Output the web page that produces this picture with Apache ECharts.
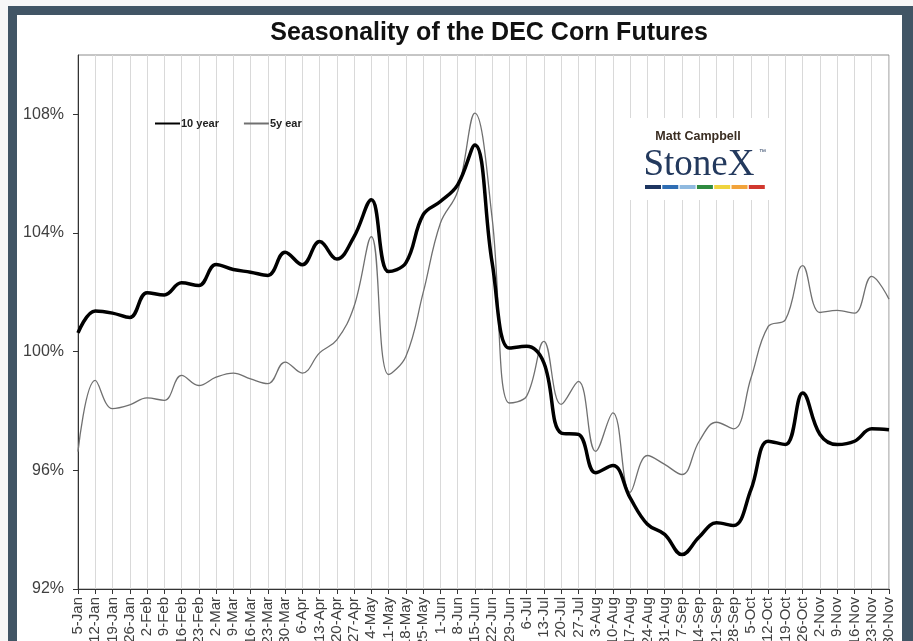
<!DOCTYPE html>
<html>
<head>
<meta charset="utf-8">
<script src="https://cdn.jsdelivr.net/npm/echarts@6/dist/echarts.min.js"></script>
<style>
	html, body { margin: 0; padding: 0; background: #f7f7f7; overflow: hidden; }
	#frame { position: absolute; left: 8px; top: 6px; width: 905px; height: 635px; background: #415565; }
	#chart { position: absolute; left: 17px; top: 15px; width: 885px; height: 626px; background: #ffffff; }
</style>
</head>
<body>
<div id="frame"></div>
<div id="chart"></div>
<script>
const weekLabels = ['5-Jan', '12-Jan', '19-Jan', '26-Jan', '2-Feb', '9-Feb', '16-Feb', '23-Feb',
	'2-Mar', '9-Mar', '16-Mar', '23-Mar', '30-Mar', '6-Apr', '13-Apr', '20-Apr', '27-Apr',
	'4-May', '11-May', '18-May', '25-May', '1-Jun', '8-Jun', '15-Jun', '22-Jun', '29-Jun',
	'6-Jul', '13-Jul', '20-Jul', '27-Jul', '3-Aug', '10-Aug', '17-Aug', '24-Aug', '31-Aug',
	'7-Sep', '14-Sep', '21-Sep', '28-Sep', '5-Oct', '12-Oct', '19-Oct', '26-Oct',
	'2-Nov', '9-Nov', '16-Nov', '23-Nov', '30-Nov'];

const tenYear = [100.63, 101.37, 101.30, 101.15, 101.99, 101.91, 102.32, 102.23,
	102.94, 102.77, 102.68, 102.57, 103.35, 102.93, 103.71, 103.12, 103.88,
	105.12, 102.70, 102.99, 104.61, 105.06, 105.62, 106.97, 103.0, 100.12,
	100.18, 99.62, 97.26, 97.21, 95.92, 96.16, 95.07, 94.18, 93.84,
	93.16, 93.75, 94.23, 94.14, 95.35, 96.98, 96.87, 98.61,
	97.21, 96.87, 96.98, 97.40, 97.37];

const fiveYear = [96.63, 99.03, 98.08, 98.21, 98.44, 98.36, 99.20, 98.86,
	99.14, 99.28, 99.08, 98.92, 99.65, 99.28, 99.96, 100.40, 101.53,
	103.88, 99.23, 99.84, 101.98, 104.33, 105.40, 108.04, 104.5, 98.27,
	98.50, 100.35, 98.22, 99.00, 96.64, 97.94, 95.26, 96.50, 96.20,
	95.86, 96.98, 97.62, 97.40, 99.11, 100.85, 101.08, 102.90,
	101.32, 101.39, 101.30, 102.54, 101.77];

const yTicks = [92, 96, 100, 104, 108];

const stripeColors = ['#1d3560', '#2f6db3', '#8fb9df', '#2e8a40', '#efd43e', '#f2a33a', '#d1382e'];

let chart = echarts.init(document.getElementById('chart'));

let stripes = stripeColors.map(function(c, i) {
	return {
		type: 'rect',
		z: 100,
		shape: { x: 628 + i * 17.3, y: 170, width: 16, height: 4 },
		style: { fill: c }
	};
});

let option = {
	animation: false,
	title: {
		text: 'Seasonality of the DEC Corn Futures',
		left: 467,
		top: 1,
		textAlign: 'center',
		textStyle: {
			fontFamily: '"Liberation Sans Narrow", "Liberation Sans", Arial, sans-serif',
			fontSize: 25,
			fontWeight: 'bold',
			color: '#111'
		}
	},
	legend: {
		left: 137,
		top: 103,
		padding: 0,
		itemWidth: 25,
		itemHeight: 10,
		itemGap: 24,
		itemStyle: { opacity: 0 },
		textStyle: {
			fontFamily: '"Liberation Sans", Arial, sans-serif',
			fontSize: 11,
			fontWeight: 'bold',
			color: '#222',
			padding: [0, 0, 0, -4]
		},
		data: ['10 year', '5y ear']
	},
	grid: {
		left: 61,
		top: 40,
		right: 13,
		bottom: 52,
		outerBoundsMode: 'none',
		containLabel: false,
		show: true,
		borderColor: '#8c8c8c',
		borderWidth: 1
	},
	xAxis: {
		type: 'category',
		boundaryGap: false,
		data: weekLabels,
		axisLine: { lineStyle: { color: '#333', width: 1 } },
		axisTick: { show: true, length: 5, interval: 0, lineStyle: { color: '#333' } },
		axisLabel: {
			interval: 0,
			rotate: 90,
			margin: 8,
			fontFamily: '"Liberation Sans", Arial, sans-serif',
			fontSize: 15,
			color: '#404040'
		},
		splitLine: { show: true, interval: 0, lineStyle: { color: '#d9d9d9', width: 1 } }
	},
	yAxis: {
		type: 'value',
		min: 92,
		max: 110,
		interval: 4,
		axisLine: { show: true, lineStyle: { color: '#333', width: 1 } },
		axisTick: { show: true, length: 5, customValues: yTicks, lineStyle: { color: '#333' } },
		splitLine: { show: false },
		axisLabel: {
			margin: 14,
			customValues: yTicks,
			fontFamily: '"Liberation Sans", Arial, sans-serif',
			fontSize: 16,
			color: '#404040',
			formatter: function(v) {
				return v + '%';
			}
		}
	},
	series: [{
		name: '10 year',
		type: 'line',
		data: tenYear,
		smooth: 0.4,
		symbol: 'none',
		z: 4,
		lineStyle: { color: '#000', width: 3.5 },
		itemStyle: { color: '#000' }
	}, {
		name: '5y ear',
		type: 'line',
		data: fiveYear,
		smooth: 0.4,
		symbol: 'none',
		z: 3,
		lineStyle: { color: '#707070', width: 1.3 },
		itemStyle: { color: '#707070' }
	}],
	graphic: [{
		type: 'rect',
		z: 100,
		shape: { x: 611, y: 103, width: 147, height: 82 },
		style: { fill: '#fff' }
	}, {
		type: 'text',
		z: 101,
		x: 681,
		y: 122,
		style: {
			text: 'Matt Campbell',
			fontFamily: '"Liberation Sans", Arial, sans-serif',
			fontSize: 12.5,
			fontWeight: 'bold',
			fill: '#3a2d22',
			textAlign: 'center',
			textVerticalAlign: 'middle'
		}
	}, {
		type: 'text',
		z: 101,
		x: 682,
		y: 150,
		style: {
			text: 'StoneX',
			fontFamily: '"Liberation Serif", "DejaVu Serif", serif',
			fontSize: 37,
			fill: '#23395d',
			textAlign: 'center',
			textVerticalAlign: 'middle'
		}
	}, {
		type: 'text',
		z: 101,
		x: 742,
		y: 137,
		style: {
			text: '™',
			fontFamily: '"Liberation Sans", Arial, sans-serif',
			fontSize: 7,
			fill: '#23395d',
			textAlign: 'left',
			textVerticalAlign: 'middle'
		}
	}].concat(stripes)
};

chart.setOption(option);
</script>
</body>
</html>
